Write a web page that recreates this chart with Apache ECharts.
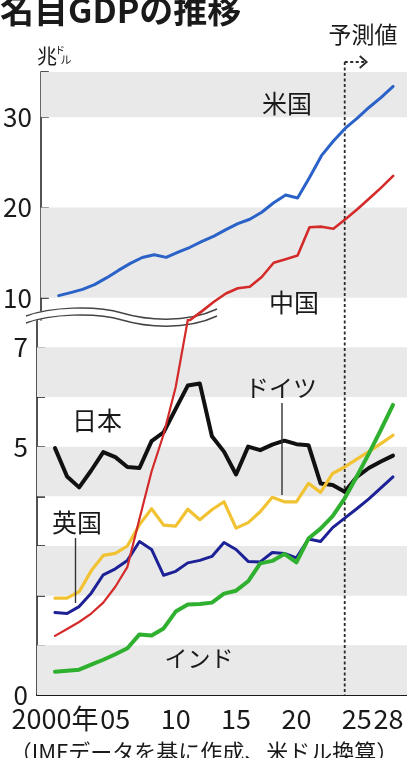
<!DOCTYPE html>
<html>
<head>
<meta charset="utf-8">
<script src="https://cdn.jsdelivr.net/npm/echarts@6/dist/echarts.min.js"></script>
<style>
html,body{margin:0;padding:0;background:#fff}
#chart{width:407px;height:758px}
</style>
</head>
<body>
<div id="chart"></div>
<script>
// 名目GDP（兆ドル）IMF、2024年以降は予測値
const years = [2000, 2001, 2002, 2003, 2004, 2005, 2006, 2007, 2008, 2009,
  2010, 2011, 2012, 2013, 2014, 2015, 2016, 2017, 2018, 2019,
  2020, 2021, 2022, 2023, 2024, 2025, 2026, 2027, 2028]
const usa = [10.25, 10.58, 10.94, 11.46, 12.21, 13.04, 13.82, 14.47, 14.77, 14.48,
  15.05, 15.60, 16.25, 16.84, 17.55, 18.21, 18.70, 19.48, 20.53, 21.38,
  21.06, 23.32, 25.74, 27.36, 28.78, 29.90, 31.10, 32.20, 33.40]
const china = [1.19, 1.33, 1.47, 1.64, 1.86, 2.18, 2.58, 3.55, 4.50, 5.25,
  6.20, 7.55, 8.53, 9.57, 10.48, 11.06, 11.23, 12.31, 13.89, 14.28,
  14.69, 17.82, 17.88, 17.66, 18.70, 19.80, 21.00, 22.20, 23.50]
const japan = [4.97, 4.40, 4.18, 4.52, 4.89, 4.79, 4.59, 4.57, 5.11, 5.29,
  5.76, 6.23, 6.27, 5.21, 4.90, 4.44, 5.00, 4.93, 5.04, 5.12,
  5.05, 5.03, 4.26, 4.23, 4.09, 4.39, 4.57, 4.70, 4.82]
const germany = [1.95, 1.95, 2.08, 2.50, 2.81, 2.85, 3.00, 3.43, 3.75, 3.42,
  3.40, 3.74, 3.53, 3.73, 3.89, 3.36, 3.47, 3.69, 3.98, 3.89,
  3.89, 4.26, 4.08, 4.46, 4.59, 4.75, 4.90, 5.06, 5.23]
const uk = [1.66, 1.64, 1.78, 2.05, 2.42, 2.54, 2.71, 3.09, 2.93, 2.41,
  2.49, 2.66, 2.71, 2.79, 3.07, 2.93, 2.69, 2.68, 2.87, 2.85,
  2.76, 3.14, 3.09, 3.37, 3.56, 3.75, 3.95, 4.17, 4.39]
const india = [0.47, 0.49, 0.51, 0.61, 0.71, 0.82, 0.94, 1.22, 1.20, 1.34,
  1.68, 1.82, 1.83, 1.86, 2.04, 2.10, 2.29, 2.65, 2.70, 2.84,
  2.67, 3.15, 3.35, 3.60, 3.96, 4.40, 4.86, 5.34, 5.84]

const xLabelYears = [2000, 2005, 2010, 2015, 2020, 2025, 2028]
const forecastYear = 2024

// 上段（10〜35兆）と下段（0〜7兆）の目盛り
const topTicks = [10, 20, 30, 35]
const topLabels = [10, 20, 30]
const topBands = [[30, 35], [10, 20]]
const bottomTicks = [0, 1, 2, 3, 4, 5, 6, 7]
const bottomLabels = [0, 5, 7]
const bottomBands = [[6, 7], [4, 5], [2, 3], [0, 1]]

const FONT = '"Noto Sans CJK JP", "Noto Sans", sans-serif'
const INK = '#1a1a1a'
const X_MIN = 1998.51, X_MAX = 2029.16
const BREAK = 7.55 // 上下の軸がつながる値

const pairs = arr => years.map((y, i) => [y, arr[i]])

const bandSeries = (idx, bands) => ({
    type: 'line', xAxisIndex: idx, yAxisIndex: idx, data: [], silent: true, z: 1,
    markArea: {
        silent: true,
        itemStyle: {color: '#e9e9e9'},
        data: bands.map(b => [{yAxis: b[0]}, {yAxis: b[1]}])
    }
})

const lineSeries = (idx, arr, color, width) => ({
    type: 'line', xAxisIndex: idx, yAxisIndex: idx,
    data: pairs(arr), symbol: 'none', silent: true, clip: true,
    lineStyle: {color: color, width: width, join: 'round', cap: 'round'}
})

const yAxisOpt = (idx, min, max, ticks, labels) => ({
    type: 'value', gridIndex: idx, min: min, max: max,
    splitLine: {show: false},
    axisLine: {show: true, lineStyle: {color: INK, width: 1.5}},
    axisTick: {show: true, inside: true, length: 8, customValues: ticks, lineStyle: {color: INK, width: 1.5}},
    axisLabel: {customValues: labels, margin: 9, fontSize: 26, color: INK, fontFamily: FONT}
})

const txt = (text, x, y, size, extra) => ({
    type: 'text', x: x, y: y, z: 20,
    style: Object.assign({
        text: text, fontSize: size, fontFamily: FONT, fill: INK,
        align: 'center', verticalAlign: 'middle'
    }, extra || {})
})

const chart = echarts.init(document.getElementById('chart'))

chart.setOption({
    animation: false,
    grid: [
        {left: 37, right: 0, top: 72, height: 248},
        {left: 37, right: 0, top: 320, height: 375}
    ],
    xAxis: [
        {type: 'value', gridIndex: 0, min: X_MIN, max: X_MAX, show: false},
        {
            type: 'value', gridIndex: 1, min: X_MIN, max: X_MAX,
            splitLine: {show: false},
            axisLine: {lineStyle: {color: INK, width: 2}},
            axisTick: {show: true, inside: true, length: 5, customValues: years, lineStyle: {color: INK, width: 1.3}},
            axisLabel: {
                customValues: xLabelYears, margin: 10, color: INK,
                fontSize: 27, fontFamily: FONT,
                formatter: v => v === 2000 ? '2000年'
                    : v === 2028 ? '{r|28}' : String(v % 100).padStart(2, '0'),
                rich: {r: {fontSize: 27, fontFamily: FONT, color: INK, padding: [0, 9, 0, 0]}}
            }
        }
    ],
    yAxis: [
        yAxisOpt(0, BREAK, 35, topTicks, topLabels),
        yAxisOpt(1, 0, BREAK, bottomTicks, bottomLabels)
    ],
    series: [
        bandSeries(0, topBands),
        bandSeries(1, bottomBands),
        lineSeries(0, usa, '#2b62c8', 3),
        lineSeries(0, china, '#d42a2a', 2.6),
        lineSeries(1, japan, '#111111', 4),
        lineSeries(1, germany, '#f1c232', 3.2),
        lineSeries(1, uk, '#1d2196', 3),
        lineSeries(1, india, '#2fb02f', 4),
        lineSeries(1, china, '#d42a2a', 2.2)
    ]
})

// 予測値の境界線（2024年）と波線などの注記
const fx = chart.convertToPixel({xAxisIndex: 1}, forecastYear)
const dash = {stroke: '#2a2a2a', lineWidth: 1.8, lineDash: [3, 2.5]}
const wave = (dy, stroke, lw) => [
    {type: 'bezierCurve', z: 1, shape: {x1: 26, y1: 316 + dy, cpx1: 50, cpy1: 307 + dy, cpx2: 95, cpy2: 305 + dy, x2: 122, y2: 313 + dy}, style: {stroke: stroke, lineWidth: lw, fill: null}},
    {type: 'bezierCurve', z: 1, shape: {x1: 122, y1: 313 + dy, cpx1: 145, cpy1: 319.8 + dy, cpx2: 185, cpy2: 324 + dy, x2: 217, y2: 309 + dy}, style: {stroke: stroke, lineWidth: lw, fill: null}}
]

chart.setOption({
    graphic: [
        {type: 'line', z: 1, shape: {x1: fx, y1: 62, x2: fx, y2: 695}, style: dash},
        {type: 'line', z: 1, shape: {x1: fx, y1: 62, x2: fx + 20, y2: 62}, style: dash},
        {type: 'polyline', z: 1, shape: {points: [[fx + 15, 56], [fx + 22, 62], [fx + 15, 68]]}, style: {stroke: '#2a2a2a', lineWidth: 1.8, fill: null}},
        ...wave(3.5, '#ffffff', 8),
        ...wave(0, '#444444', 1.4),
        ...wave(7, '#444444', 1.4),
        txt('名目GDPの推移', 0, 10, 34, {align: 'left', fontWeight: 'bold'}),
        txt('予測値', 363, 34, 23),
        txt('兆', 47, 56, 20),
        txt('ド', 60, 50, 10),
        txt('ル', 66, 60, 11),
        txt('米国', 287, 103, 25),
        txt('中国', 294, 302, 25),
        txt('日本', 97, 420, 25),
        txt('ドイツ', 281, 388, 24),
        txt('英国', 77, 522, 25),
        txt('インド', 199, 658, 23),
        {type: 'line', z: 20, shape: {x1: 282, y1: 403, x2: 282, y2: 495}, style: {stroke: '#333', lineWidth: 1.4}},
        {type: 'line', z: 20, shape: {x1: 75.5, y1: 538, x2: 75.5, y2: 603}, style: {stroke: '#333', lineWidth: 1.4}},
        txt('（IMFデータを基に作成、米ドル換算）', 204, 752, 22)
    ]
})
</script>
</body>
</html>
